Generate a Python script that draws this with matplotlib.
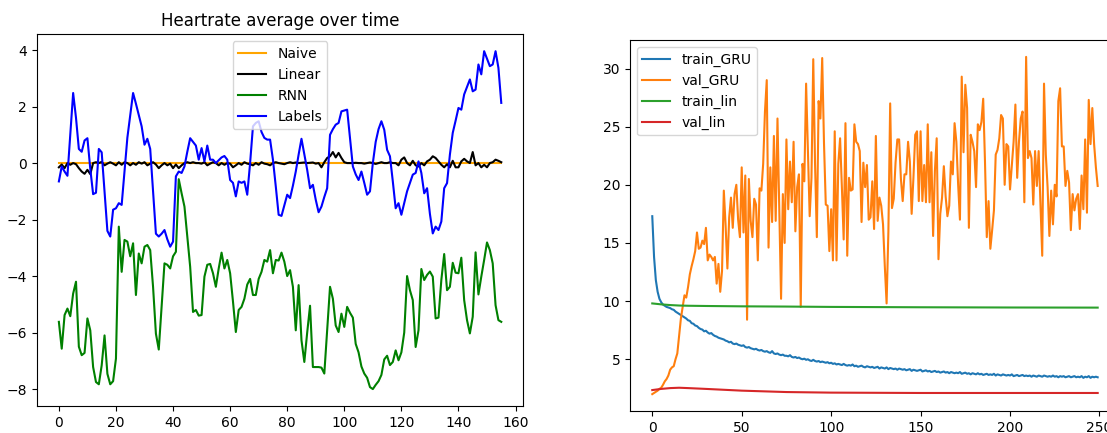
"""
Heart-rate forecasting results
------------------------------
Left: predictions of three models against the true labels over time.
Right: training / validation loss per epoch for the GRU and linear models.
"""

import numpy as np
import matplotlib
matplotlib.use("Agg")
import matplotlib.pyplot as plt


# --- left panel: predictions over time (one value per time step) ---
naive = [
    0.01, 0.01, 0.01, 0.01, 0.01, 0.01, 0.01, 0.01, 0.01, 0.01, 0.01, 0.01, 0.01,
    0.01, 0.01, 0.01, 0.01, 0.01, 0.01, 0.01, 0.01, 0.01, 0.01, 0.01, 0.01, 0.01,
    0.01, 0.01, 0.01, 0.01, 0.01, 0.01, 0.01, 0.01, 0.01, 0.01, 0.01, 0.01, 0.01,
    0.01, 0.01, 0.01, 0.01, 0.01, 0.01, 0.01, 0.01, 0.01, 0.01, 0.01, 0.01, 0.01,
    0.01, 0.01, 0.01, 0.01, 0.01, 0.01, 0.01, 0.01, 0.01, 0.01, 0.01, 0.01, 0.01,
    0.01, 0.01, 0.01, 0.01, 0.01, 0.01, 0.01, 0.01, 0.01, 0.01, 0.01, 0.01, 0.01,
    0.01, 0.01, 0.01, 0.01, 0.01, 0.01, 0.01, 0.01, 0.01, 0.01, 0.01, 0.01, 0.01,
    0.01, 0.01, 0.01, 0.01, 0.01, 0.01, 0.01, 0.01, 0.01, 0.01, 0.01, 0.01, 0.01,
    0.01, 0.01, 0.01, 0.01, 0.01, 0.01, 0.01, 0.01, 0.01, 0.01, 0.01, 0.01, 0.01,
    0.01, 0.01, 0.01, 0.01, 0.01, 0.01, 0.01, 0.01, 0.01, 0.01, 0.01, 0.01, 0.01,
    0.01, 0.01, 0.01, 0.01, 0.01, 0.01, 0.01, 0.01, 0.01, 0.01, 0.01, 0.01, 0.01,
    0.01, 0.01, 0.01, 0.01, 0.01, 0.01, 0.01, 0.01, 0.01, 0.01, 0.01, 0.01, 0.01,
]

linear = [
    -0.15, -0.05, -0.18, 0.0, -0.06, 0.0, -0.04, -0.18, -0.3, -0.38,
    -0.24, -0.39, 0.0, 0.03, 0.0, 0.04, -0.08, -0.02, 0.03, -0.02,
    -0.08, 0.03, -0.06, 0.03, 0.0, -0.08, 0.0, -0.06, 0.03, -0.02,
    0.03, -0.08, -0.02, 0.03, -0.05, -0.18, -0.08, 0.0, -0.08, -0.02,
    -0.18, -0.05, -0.18, -0.08, 0.0, 0.03, 0.0, 0.03, 0.0, 0.0,
    -0.02, 0.03, -0.08, -0.02, 0.03, 0.0, -0.08, 0.0, -0.06, 0.0,
    -0.02, -0.15, -0.08, 0.0, -0.06, 0.03, -0.02, -0.04, -0.08, 0.0,
    -0.06, 0.03, -0.02, -0.04, -0.08, 0.0, 0.03, 0.0, -0.02, -0.04,
    0.0, 0.03, 0.0, 0.02, 0.0, 0.01, 0.02, 0.0, 0.01, 0.02,
    -0.02, 0.0, -0.15, 0.03, 0.18, 0.24, 0.39, 0.2, 0.36, 0.18,
    0.03, 0.0, 0.0, 0.0, 0.01, 0.0, 0.0, -0.02, 0.0, 0.02,
    0.0, -0.03, 0.0, 0.03, 0.0, 0.0, 0.03, 0.0, 0.0, -0.08,
    0.12, 0.2, 0.0, -0.08, 0.08, -0.08, -0.12, 0.0, -0.08, 0.06,
    0.12, 0.24, 0.18, 0.06, -0.06, -0.15, -0.04, -0.15, 0.08, -0.15,
    -0.15, 0.06, 0.15, 0.06, 0.0, 0.39, -0.08, 0.0, -0.15, -0.06,
    -0.15, 0.0, 0.03, 0.12, 0.08, 0.03,
]

rnn = [
    -5.62, -6.57, -5.38, -5.15, -5.42, -4.62, -4.2, -6.5, -6.8, -6.72,
    -5.5, -5.92, -7.22, -7.75, -7.83, -7.16, -6.1, -7.46, -7.83, -7.72,
    -6.92, -2.25, -3.85, -2.72, -2.78, -3.3, -2.84, -4.67, -3.2, -3.55,
    -2.96, -2.9, -3.08, -4.38, -6.04, -6.6, -5.09, -3.55, -3.6, -3.73,
    -3.3, -3.14, -0.57, -1.07, -1.54, -2.6, -3.67, -5.27, -5.2, -5.4,
    -5.38, -4.02, -3.6, -3.57, -3.9, -4.38, -3.73, -3.17, -3.73, -3.43,
    -3.9, -4.9, -5.98, -5.2, -5.09, -4.8, -4.3, -4.1, -4.67, -4.67,
    -4.1, -3.85, -3.43, -3.49, -3.08, -3.9, -3.43, -3.45, -3.17, -3.49,
    -4.0, -3.79, -4.38, -5.92, -4.32, -6.27, -7.04, -6.0, -5.05, -7.22,
    -7.22, -7.22, -7.24, -7.45, -5.9, -4.38, -4.8, -5.75, -5.98, -5.33,
    -5.8, -5.09, -5.3, -5.47, -6.4, -6.7, -7.2, -7.45, -7.6, -7.93,
    -8.0, -7.85, -7.72, -7.5, -6.95, -6.82, -7.15, -7.04, -6.63, -6.98,
    -6.7, -6.0, -4.0, -4.5, -4.85, -6.51, -5.92, -3.75, -4.14, -3.96,
    -3.84, -4.02, -5.5, -5.47, -4.14, -3.22, -4.5, -4.38, -3.53, -3.88,
    -3.9, -3.35, -4.85, -5.56, -6.03, -5.44, -3.16, -4.65, -4.02, -3.43,
    -2.81, -3.08, -3.55, -5.03, -5.56, -5.62,
]

labels = [
    -0.65, -0.12, -0.3, -0.45, 1.0, 2.48, 1.6, 0.5, 0.4, 0.8,
    0.88, -0.2, -1.1, -1.05, 0.5, 0.38, -1.0, -2.4, -2.6, -1.65,
    -1.6, -1.42, -1.48, -0.3, 0.9, 1.7, 2.48, 2.1, 1.7, 1.3,
    0.65, 0.86, 0.5, -1.0, -2.5, -2.6, -2.5, -2.37, -2.7, -2.96,
    -2.78, -0.47, -0.3, -0.35, -0.12, 0.4, 0.88, 0.75, 0.62, 0.12,
    0.53, 0.06, 0.62, 0.12, 0.12, 0.0, 0.1, 0.2, 0.25, 0.12,
    -0.6, -0.7, -1.18, -0.65, -0.7, -0.65, -1.12, 0.0, 1.3, 1.42,
    1.48, 1.1, 0.89, 0.83, 0.83, 0.12, -0.83, -1.83, -1.87, -1.5,
    -1.12, -1.24, -0.8, -0.3, 0.3, 0.86, 0.3, -0.24, -0.89, -0.77,
    -1.3, -1.74, -1.54, -1.2, -0.89, 1.0, 1.2, 1.36, 1.42, 1.83,
    1.86, 1.89, 0.9, -0.12, -0.4, -0.6, -0.3, -0.7, -1.12, -1.0,
    0.0, 0.75, 1.2, 1.48, 1.18, 0.47, 0.24, -0.65, -1.6, -1.42,
    -1.83, -1.42, -1.0, -0.71, -0.41, -0.35, 0.06, -0.35, -1.07, -0.89,
    -1.8, -2.49, -2.25, -2.37, -2.07, -0.89, -0.71, 0.3, 1.07, 1.5,
    1.95, 1.89, 2.43, 2.7, 2.96, 2.54, 2.6, 3.49, 3.14, 3.96,
    3.7, 3.43, 3.49, 3.96, 3.37, 2.13,
]

# --- right panel: loss per epoch ---
train_gru = [
    17.3, 13.8, 11.8, 10.8, 10.2, 9.9, 9.7, 9.6, 9.5, 9.45,
    9.4, 9.3, 9.25, 9.1, 9.0, 8.9, 8.8, 8.7, 8.6, 8.5,
    8.35, 8.3, 8.1, 8.05, 7.9, 7.85, 7.7, 7.6, 7.55, 7.4,
    7.45, 7.3, 7.2, 7.25, 7.1, 7.0, 6.95, 6.85, 6.8, 6.75,
    6.7, 6.6, 6.55, 6.45, 6.5, 6.35, 6.3, 6.35, 6.25, 6.2,
    6.15, 6.2, 6.05, 6.0, 6.05, 5.95, 5.9, 5.85, 5.9, 5.8,
    5.75, 5.8, 5.7, 5.65, 5.7, 5.6, 5.55, 5.7, 5.5, 5.45,
    5.5, 5.4, 5.35, 5.4, 5.3, 5.3, 5.25, 5.35, 5.2, 5.15,
    5.2, 5.1, 5.15, 5.05, 5.0, 5.05, 4.95, 5.0, 4.9, 4.85,
    4.95, 4.85, 4.8, 4.85, 4.75, 4.8, 4.75, 4.7, 4.75, 4.65,
    4.7, 4.6, 4.65, 4.55, 4.6, 4.55, 4.5, 4.6, 4.5, 4.45,
    4.5, 4.45, 4.55, 4.4, 4.45, 4.35, 4.4, 4.45, 4.35, 4.3,
    4.4, 4.35, 4.3, 4.35, 4.25, 4.3, 4.35, 4.2, 4.3, 4.25,
    4.2, 4.3, 4.15, 4.25, 4.2, 4.15, 4.2, 4.1, 4.2, 4.15,
    4.1, 4.15, 4.05, 4.1, 4.15, 4.0, 4.1, 4.05, 4.0, 4.05,
    4.1, 3.95, 4.0, 4.05, 3.95, 4.0, 3.9, 3.95, 4.0, 3.9,
    3.95, 3.85, 3.9, 3.95, 3.85, 3.9, 3.8, 3.9, 3.85, 3.8,
    3.85, 3.8, 3.9, 3.75, 3.8, 3.85, 3.75, 3.8, 3.7, 3.8,
    3.75, 3.7, 3.8, 3.7, 3.75, 3.65, 3.7, 3.75, 3.65, 3.7,
    3.65, 3.75, 3.6, 3.7, 3.65, 3.6, 3.7, 3.65, 3.6, 3.65,
    3.6, 3.7, 3.55, 3.6, 3.65, 3.55, 3.6, 3.65, 3.55, 3.6,
    3.55, 3.6, 3.5, 3.6, 3.55, 3.5, 3.6, 3.55, 3.5, 3.6,
    3.55, 3.5, 3.55, 3.5, 3.6, 3.5, 3.55, 3.45, 3.55, 3.5,
    3.55, 3.45, 3.5, 3.55, 3.45, 3.5, 3.55, 3.45, 3.5, 3.45,
    3.55, 3.4, 3.5, 3.45, 3.55, 3.4, 3.5, 3.45, 3.5, 3.45,
]

val_gru = [
    2.0, 2.1, 2.2, 2.3, 2.45, 2.55, 2.8, 3.1, 3.3, 3.6,
    4.1, 4.3, 4.4, 5.0, 5.5, 7.0, 8.5, 9.5, 10.5, 10.3,
    11.2, 12.3, 13.0, 13.6, 14.3, 15.9, 14.5, 14.6, 15.2, 14.9,
    16.3, 13.5, 14.0, 13.8, 13.5, 13.8, 11.5, 13.2, 10.8, 12.6,
    19.5, 16.5, 12.8, 17.2, 18.9, 16.3, 19.2, 20.0, 17.0, 15.5,
    21.5, 15.9, 20.8, 8.4, 20.5, 16.9, 15.5, 18.8, 18.3, 13.5,
    19.7, 19.5, 21.8, 26.3, 29.0, 14.6, 21.5, 16.8, 24.2, 16.9,
    25.7, 17.8, 10.2, 19.2, 15.0, 23.9, 17.9, 22.0, 18.5, 23.7,
    16.0, 19.8, 20.9, 9.5, 21.8, 20.3, 28.7, 23.1, 17.3, 20.6,
    30.8, 21.8, 15.5, 27.2, 25.7, 30.9, 23.6, 18.3, 18.2, 14.3,
    17.9, 13.5, 24.6, 13.5, 21.8, 24.0, 19.8, 15.3, 25.3, 13.9,
    20.6, 19.5, 19.6, 25.2, 23.7, 23.5, 22.9, 16.8, 21.9, 19.8,
    21.7, 17.0, 17.2, 20.3, 16.2, 24.2, 16.9, 18.9, 18.2, 16.6,
    13.0, 9.8, 16.0, 27.0, 18.0, 18.8, 21.9, 23.9, 23.9, 20.5,
    18.6, 20.9, 20.9, 23.7, 22.0, 17.5, 20.6, 24.3, 24.6, 18.6,
    24.6, 18.6, 21.7, 18.5, 25.2, 18.5, 22.8, 15.6, 21.2, 24.0,
    13.6, 17.5, 18.9, 21.6, 19.0, 17.3, 18.2, 22.0, 20.9, 25.3,
    23.7, 20.0, 17.0, 29.3, 22.8, 28.6, 26.6, 16.3, 24.3, 23.7,
    22.9, 19.8, 25.2, 24.7, 25.4, 27.4, 22.0, 15.5, 18.6, 14.5,
    16.1, 17.8, 22.6, 23.0, 24.0, 26.0, 25.7, 20.0, 23.5, 23.3,
    19.6, 21.7, 23.7, 26.9, 20.6, 23.7, 25.7, 26.3, 18.5, 31.0,
    22.3, 22.9, 22.3, 18.3, 22.9, 19.9, 22.9, 18.3, 13.9, 28.7,
    22.6, 19.8, 15.6, 19.5, 16.6, 20.0, 19.0, 27.2, 28.3, 23.3,
    23.3, 19.9, 21.2, 20.2, 16.1, 19.2, 17.8, 18.8, 19.2, 16.2,
    20.8, 17.9, 23.9, 17.6, 27.3, 23.5, 26.6, 23.5, 21.5, 19.9,
]

# the linear model's losses are smooth, so they were logged on fewer epochs
lin_epochs = [0, 5, 10, 15, 20, 30, 50, 75, 100, 150, 200, 249]
train_lin = [9.8, 9.72, 9.66, 9.62, 9.6, 9.58, 9.55, 9.53, 9.5, 9.47, 9.45, 9.44]
val_lin = [2.35, 2.45, 2.52, 2.55, 2.52, 2.45, 2.3, 2.18, 2.13, 2.1, 2.1, 2.1]


def plot_predictions(ax):
    """Model predictions vs. ground truth."""
    steps = np.arange(len(labels))
    ax.plot(steps, naive, color="orange", label="Naive")
    ax.plot(steps, linear, color="black", label="Linear")
    ax.plot(steps, rnn, color="green", label="RNN")
    ax.plot(steps, labels, color="blue", label="Labels")
    ax.set_title("Heartrate average over time")
    ax.set_xticks(range(0, 161, 20))
    ax.set_yticks(range(-8, 5, 2))
    ax.legend(loc="upper center")


def plot_losses(ax):
    """Loss curves for both models."""
    epochs = np.arange(len(train_gru))
    ax.plot(epochs, train_gru, label="train_GRU")
    ax.plot(np.arange(len(val_gru)), val_gru, label="val_GRU")
    ax.plot(lin_epochs, train_lin, label="train_lin")
    ax.plot(lin_epochs, val_lin, label="val_lin")
    ax.set_xticks(range(0, 251, 50))
    ax.set_yticks(range(5, 31, 5))
    ax.legend(loc="upper left")


def main():
    fig = plt.figure(figsize=(11.07, 4.33), dpi=100)
    ax1 = fig.add_axes([0.0332, 0.0624, 0.4396, 0.8584])
    # the loss panel runs slightly past the right edge of the canvas
    ax2 = fig.add_axes([0.5691, 0.0508, 0.4426, 0.8568])

    plot_predictions(ax1)
    plot_losses(ax2)

    fig.savefig("out.png", dpi=100)


if __name__ == "__main__":
    main()
